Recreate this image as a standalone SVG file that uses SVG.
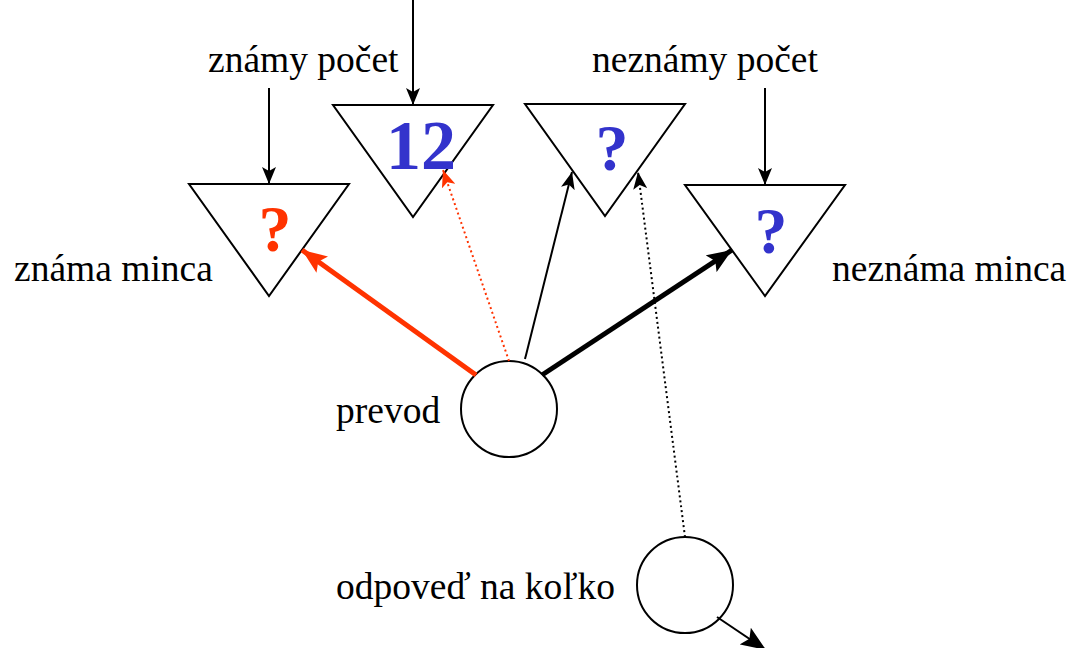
<svg xmlns="http://www.w3.org/2000/svg" width="1070" height="648" viewBox="0 0 1070 648">
<style>
.lbl{font-family:"Liberation Serif","Times New Roman",serif;font-size:37.5px;fill:#000}
.sym{font-family:"Liberation Serif","Times New Roman",serif;font-weight:bold;text-anchor:middle}
.tri{fill:#fff;stroke:#000;stroke-width:2}
.circ{fill:#fff;stroke:#000;stroke-width:2}
</style>
<defs>
<marker id="ah" markerUnits="userSpaceOnUse" markerWidth="18" markerHeight="14" refX="17" refY="7" orient="auto">
<path d="M0,0 L17,7 L0,14 L4,7 z" fill="#000"/>
</marker>
<marker id="ahBig" markerUnits="userSpaceOnUse" markerWidth="26" markerHeight="20" refX="25" refY="10" orient="auto">
<path d="M0,0 L25,10 L0,20 L5,10 z" fill="#000"/>
</marker>
<marker id="ahRed" markerUnits="userSpaceOnUse" markerWidth="18" markerHeight="14" refX="17" refY="7" orient="auto">
<path d="M0,0 L17,7 L0,14 L4,7 z" fill="#FF3300"/>
</marker>
<marker id="ahRedBig" markerUnits="userSpaceOnUse" markerWidth="26" markerHeight="20" refX="25" refY="10" orient="auto">
<path d="M0,0 L25,10 L0,20 L5,10 z" fill="#FF3300"/>
</marker>
</defs>
<rect width="1070" height="648" fill="#fff"/>
<g id="t-znama-minca">
<polygon class="tri" points="189,184 349,184 269,296"/>
<text class="sym" x="275" y="251" font-size="66" fill="#FF3300">?</text>
<text class="lbl" x="14" y="281">známa minca</text>
</g>
<g id="t-znamy-pocet">
<polygon class="tri" points="333,105 493,105 413,217"/>
<text class="sym" x="421" y="169" font-size="70" fill="#3333CC">12</text>
<text class="lbl" x="208" y="72">známy počet</text>
</g>
<g id="t-neznamy-pocet">
<polygon class="tri" points="525,104 685,104 605,216"/>
<text class="sym" x="612" y="170" font-size="66" fill="#3333CC">?</text>
<text class="lbl" x="592" y="72">neznámy počet</text>
</g>
<g id="t-neznama-minca">
<polygon class="tri" points="685,185 845,185 765,296"/>
<text class="sym" x="771" y="253" font-size="66" fill="#3333CC">?</text>
<text class="lbl" x="832" y="281">neznáma minca</text>
</g>
<g id="c-prevod">
<circle class="circ" cx="509" cy="409" r="48"/>
<text class="lbl" x="336" y="423">prevod</text>
</g>
<g id="c-odpoved">
<circle class="circ" cx="685" cy="585" r="48"/>
<text class="lbl" x="336" y="599">odpoveď na koľko</text>
</g>
<g id="connectors" fill="none">
<line x1="269" y1="88" x2="269" y2="184" stroke="#000" stroke-width="2" marker-end="url(#ah)"/>
<line x1="413" y1="0" x2="413" y2="105" stroke="#000" stroke-width="2" marker-end="url(#ah)"/>
<line x1="765" y1="88" x2="765" y2="185" stroke="#000" stroke-width="2" marker-end="url(#ah)"/>
<line x1="476" y1="375" x2="302" y2="250" stroke="#FF3300" stroke-width="5" marker-end="url(#ahRedBig)"/>
<line x1="509" y1="361" x2="443" y2="170" stroke="#FF3300" stroke-width="2" stroke-dasharray="2,3" marker-end="url(#ahRed)"/>
<line x1="525" y1="359" x2="572" y2="172" stroke="#000" stroke-width="2" marker-end="url(#ah)"/>
<line x1="685" y1="537" x2="638" y2="172" stroke="#000" stroke-width="2" stroke-dasharray="2,3" marker-end="url(#ah)"/>
<line x1="542" y1="375" x2="732" y2="250" stroke="#000" stroke-width="5" marker-end="url(#ahBig)"/>
<line x1="717" y1="617" x2="766" y2="650" stroke="#000" stroke-width="2" marker-end="url(#ahBig)"/>
</g>
</svg>
